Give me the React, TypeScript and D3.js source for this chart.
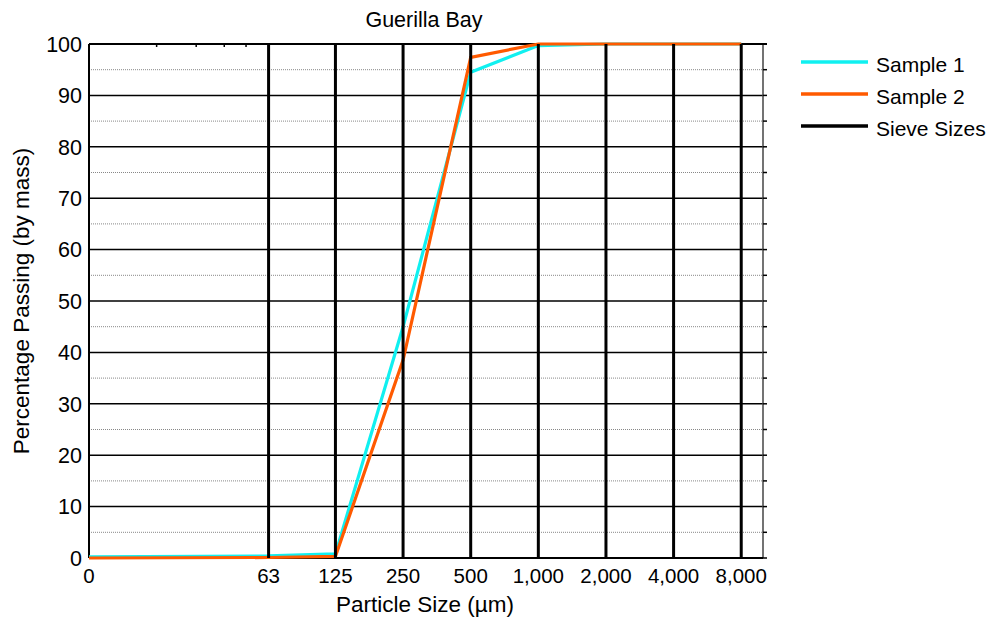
import React from 'react';
import * as d3 from 'd3';

// Sieve openings (µm); 0 stands for the pan
const sieveSizes = [0, 63, 125, 250, 500, 1000, 2000, 4000, 8000];
// Cumulative percentage passing (by mass) at each sieve
const sample1 = [0.2, 0.4, 0.8, 45, 94.5, 99.7, 100, 100, 100];
const sample2 = [0, 0.1, 0.3, 38.5, 97.4, 100, 100, 100, 100];
// Minor log ticks on the size axis
const minorSizes = [20, 30, 40, 50];
const yMajor = d3.range(0, 101, 10);
const yMinor = d3.range(5, 100, 10);
const seriesNames = ['Sample 1', 'Sample 2', 'Sieve Sizes'];
const seriesColors = ['#10F0F0', '#FF5A00', '#000000'];

const W = 997;
const H = 628;
const left = 89;
const right = 763;
const top = 44;
const bottom = 558;
const sizeMin = 10;
const sizeMax = 10000;
const FONT = '"Liberation Sans", Arial, sans-serif';
const FS_TICK = 20.5;
const FS_YTICK = 21.5;
const FS_LEGEND = 21;
const FS_TITLE = 21.5;
const FS_LABEL = 22.5;

const x = d3.scaleLog().domain([sizeMin, sizeMax]).range([left, right]);
const y = d3.scaleLinear().domain([0, 100]).range([bottom, top]);
const xPos = (s: number) => x(s === 0 ? sizeMin : s);
const line = d3
  .line<[number, number]>()
  .x((d) => xPos(d[0]))
  .y((d) => y(d[1]));
const fmt = d3.format(',');

export default function App() {
  const samples = [sample1, sample2];
  return (
    <svg
      width={W}
      height={H}
      style={{ position: 'absolute', left: 0, top: 0, background: '#fff' }}
      fontFamily={FONT}
    >
      <rect x={0} y={0} width={W} height={H} fill="#fff" />
      {/* title */}
      <text x={(left + right) / 2 - 2} y={27} textAnchor="middle" fontSize={FS_TITLE}>
        Guerilla Bay
      </text>

      {/* minor horizontal grid */}
      {yMinor.map((v) => (
        <line
          key={'mn' + v}
          x1={left}
          x2={right}
          y1={y(v)}
          y2={y(v)}
          stroke="#888"
          strokeWidth={1}
          strokeDasharray="1,1"
        />
      ))}
      {/* major horizontal grid */}
      {yMajor.map((v) => (
        <line
          key={'mj' + v}
          x1={left}
          x2={right}
          y1={y(v)}
          y2={y(v)}
          stroke="#000"
          strokeWidth={1.5}
        />
      ))}

      {/* right axis with outward ticks */}
      <line x1={right} x2={right} y1={top} y2={bottom} stroke="#444" strokeWidth={1.5} />
      {d3.range(0, 101, 5).map((v) => (
        <line
          key={'rt' + v}
          x1={right}
          x2={right + 4}
          y1={y(v)}
          y2={y(v)}
          stroke="#000"
          strokeWidth={1.5}
        />
      ))}
      {/* top and bottom borders */}
      <line x1={left} x2={right + 4} y1={top} y2={top} stroke="#000" strokeWidth={2} />
      <line x1={left} x2={right} y1={bottom} y2={bottom} stroke="#000" strokeWidth={2} />
      <line x1={left} x2={left} y1={top} y2={bottom} stroke="#000" strokeWidth={2} />
      {/* minor size ticks */}
      {minorSizes.map((s) => (
        <g key={'mt' + s}>
          <line x1={x(s)} x2={x(s)} y1={bottom} y2={bottom - 3} stroke="#000" strokeWidth={1.5} />
          <line x1={x(s)} x2={x(s)} y1={top} y2={top + 3} stroke="#000" strokeWidth={1.5} />
        </g>
      ))}

      {/* sample curves */}
      {samples.map((vals, i) => (
        <path
          key={'s' + i}
          d={line(sieveSizes.map((s, j) => [s, vals[j]] as [number, number])) || ''}
          fill="none"
          stroke={seriesColors[i]}
          strokeWidth={3.2}
          strokeLinejoin="miter"
        />
      ))}

      {/* sieve size lines */}
      {sieveSizes
        .filter((s) => s > 0)
        .map((s) => (
          <line
            key={'sv' + s}
            x1={xPos(s)}
            x2={xPos(s)}
            y1={bottom}
            y2={top}
            stroke={seriesColors[2]}
            strokeWidth={3}
          />
        ))}

      {/* y tick labels */}
      {yMajor.map((v) => (
        <text
          key={'yl' + v}
          x={82}
          y={y(v)}
          dy="0.36em"
          textAnchor="end"
          fontSize={FS_YTICK}
        >
          {v}
        </text>
      ))}
      {/* x tick labels */}
      {sieveSizes.map((s) => (
        <text key={'xl' + s} x={xPos(s)} y={583} textAnchor="middle" fontSize={FS_TICK}>
          {fmt(s)}
        </text>
      ))}

      {/* axis titles */}
      <text x={(left + right) / 2 - 1} y={612} textAnchor="middle" fontSize={FS_LABEL}>
        Particle Size (µm)
      </text>
      <text
        transform={`translate(29,${(top + bottom) / 2}) rotate(-90)`}
        textAnchor="middle"
        fontSize={FS_LABEL}
      >
        Percentage Passing (by mass)
      </text>

      {/* legend */}
      {seriesNames.map((name, i) => {
        const ly = 62 + i * 32;
        return (
          <g key={'lg' + i}>
            <line x1={801} x2={868} y1={ly} y2={ly} stroke={seriesColors[i]} strokeWidth={3.5} />
            <text x={876} y={ly + 9.5} fontSize={FS_LEGEND}>
              {name}
            </text>
          </g>
        );
      })}
    </svg>
  );
}
